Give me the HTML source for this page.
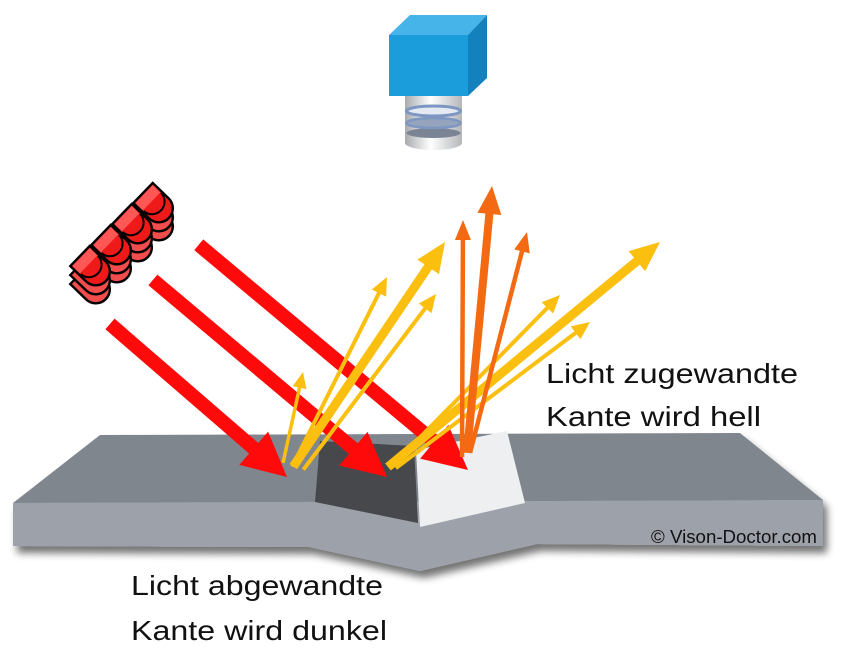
<!DOCTYPE html>
<html><head><meta charset="utf-8"><style>
html,body{margin:0;padding:0;background:#fff;}
svg{display:block;}
text{font-family:"Liberation Sans",sans-serif;fill:#111;}
</style></head><body>
<svg width="850" height="656" viewBox="0 0 850 656" xmlns="http://www.w3.org/2000/svg">
<defs>
<filter id="sh" x="-10%" y="-10%" width="120%" height="140%">
<feGaussianBlur in="SourceAlpha" stdDeviation="4"/>
<feOffset dx="4" dy="7" result="b"/>
<feComponentTransfer><feFuncA type="linear" slope="0.55"/></feComponentTransfer>
<feMerge><feMergeNode/><feMergeNode in="SourceGraphic"/></feMerge>
</filter>
<linearGradient id="lens" x1="0" x2="1" y1="0" y2="0">
<stop offset="0" stop-color="#a9abae"/><stop offset="0.45" stop-color="#ffffff"/><stop offset="1" stop-color="#b4b6b9"/>
</linearGradient>
<g id="led">
<path d="M0,-14 L22,-14 A14,14 0 0 1 22,14 L0,14 Z" fill="#ee1a1a" stroke="#000" stroke-width="2.4"/>
<path d="M1.5,-12.5 L12,-12.5 L12,12.5 L1.5,12.5 Z" fill="#ff5656"/>
<path d="M13,-12.5 A12,12.5 0 0 1 13,12.5" fill="none" stroke="#000" stroke-width="2"/>
</g>
<g id="ledb">
<path d="M0,-14 L22,-14 A14,14 0 0 1 22,14 L0,14 Z" fill="#f24c4c" stroke="#000" stroke-width="2.4"/>
</g>
</defs>

<!-- camera -->
<polygon points="389,35 410,15 487,15 468,35" fill="#46b4e9"/>
<polygon points="468,35 487,15 487,78 468,96" fill="#1381bd"/>
<rect x="389" y="35" width="79" height="61" fill="#1c9ddb"/>
<path d="M405,96 L462,96 L462,143 A28.5,7 0 0 1 405,143 Z" fill="url(#lens)"/>
<ellipse cx="433.5" cy="133" rx="27" ry="5" fill="#7a8494"/>
<ellipse cx="433.5" cy="123" rx="27" ry="5" fill="#95a3bd" stroke="#7d96c2" stroke-width="2.5"/>
<ellipse cx="433.5" cy="111" rx="27" ry="5" fill="#e4e9f2" stroke="#7d96c2" stroke-width="3"/>

<!-- slab -->
<g filter="url(#sh)">
<polygon points="100,435 740,433 823,500 13,503" fill="#80868e"/>
<polygon points="13,503 823,500 823,546 537,544 420,571 309,547 13,546" fill="#9da2aa"/>
</g>
<polygon points="320,441 414,446 418,523 315,502" fill="#46484c"/>
<polygon points="416,450 507,431 525,503 420,527" fill="#eeeff1"/>

<!-- LEDs -->
<g>
<g transform="translate(143,211) rotate(44)"><use href="#ledb"/></g>
<g transform="translate(143,202) rotate(44)"><use href="#ledb"/></g>
<g transform="translate(143,193) rotate(44)"><use href="#led"/></g>
<g transform="translate(122,232) rotate(44)"><use href="#ledb"/></g>
<g transform="translate(122,223) rotate(44)"><use href="#ledb"/></g>
<g transform="translate(122,214) rotate(44)"><use href="#led"/></g>
<g transform="translate(101,253) rotate(44)"><use href="#ledb"/></g>
<g transform="translate(101,244) rotate(44)"><use href="#ledb"/></g>
<g transform="translate(101,235) rotate(44)"><use href="#led"/></g>
<g transform="translate(80,274) rotate(44)"><use href="#ledb"/></g>
<g transform="translate(80,265) rotate(44)"><use href="#ledb"/></g>
<g transform="translate(80,256) rotate(44)"><use href="#led"/></g>
</g>

<!-- red arrows -->
<g fill="#ff0a0a">
<g transform="translate(287,477) rotate(40.84)"><rect x="-234" y="-7" width="192" height="14"/><polygon points="0,0 -44,-22 -44,22"/></g>
<g transform="translate(387,477) rotate(40.09)"><rect x="-306" y="-7" width="264" height="14"/><polygon points="0,0 -44,-22 -44,22"/></g>
<g transform="translate(468,470) rotate(39.91)"><rect x="-351" y="-7" width="309" height="14"/><polygon points="0,0 -44,-22 -44,22"/></g>
</g>

<!-- yellow arrows -->
<g fill="#fbbf10">
<g transform="translate(303,372) rotate(-77.6)"><rect x="-93" y="-1.75" width="78" height="3.5"/><polygon points="0,0 -16,-7 -16,7"/></g>
<g transform="translate(387,277) rotate(-63.43)"><rect x="-212" y="-2" width="195" height="4"/><polygon points="0,0 -18,-8 -18,8"/></g>
<g transform="translate(445,242) rotate(-55.96)"><rect x="-271" y="-4.5" width="243" height="9"/><polygon points="0,0 -30,-13 -30,13"/></g>
<g transform="translate(436,294) rotate(-52.93)"><rect x="-220" y="-2" width="203" height="4"/><polygon points="0,0 -18,-8 -18,8"/></g>
<g transform="translate(660,242) rotate(-39.6)"><rect x="-353" y="-4.5" width="325" height="9"/><polygon points="0,0 -30,-13 -30,13"/></g>
<g transform="translate(560,295) rotate(-45.5)"><rect x="-240" y="-2" width="223" height="4"/><polygon points="0,0 -18,-8 -18,8"/></g>
<g transform="translate(590,322) rotate(-36.96)"><rect x="-243" y="-2" width="226" height="4"/><polygon points="0,0 -18,-8 -18,8"/></g>
</g>

<!-- orange arrows -->
<g fill="#f46a12">
<g transform="translate(463,220) rotate(-89.76)"><rect x="-237" y="-2.25" width="219" height="4.5"/><polygon points="0,0 -20,-8 -20,8"/></g>
<g transform="translate(492,186) rotate(-84.65)"><rect x="-268" y="-4" width="242" height="8"/><polygon points="0,0 -28,-12 -28,12"/></g>
<g transform="translate(527,232) rotate(-75.54)"><rect x="-228" y="-2.25" width="210" height="4.5"/><polygon points="0,0 -20,-8 -20,8"/></g>
</g>

<!-- labels -->
<text x="546" y="383" font-size="28" textLength="252" lengthAdjust="spacingAndGlyphs">Licht zugewandte</text>
<text x="546" y="426" font-size="28" textLength="215" lengthAdjust="spacingAndGlyphs">Kante wird hell</text>
<text x="131" y="595" font-size="28" textLength="252" lengthAdjust="spacingAndGlyphs">Licht abgewandte</text>
<text x="131" y="640" font-size="28" textLength="256" lengthAdjust="spacingAndGlyphs">Kante wird dunkel</text>
<text x="651" y="543" font-size="18" textLength="166" lengthAdjust="spacingAndGlyphs">© Vison-Doctor.com</text>
</svg>
</body></html>
